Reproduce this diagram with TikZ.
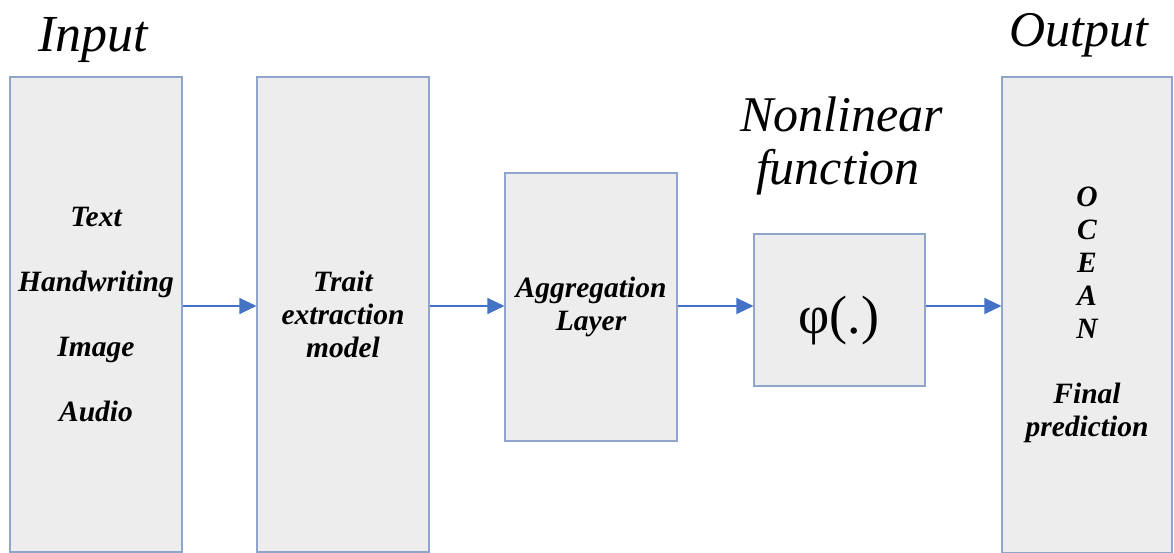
\documentclass[tikz,border=0pt]{standalone}
\usepackage{fontspec}
\setmainfont{Liberation Serif}
\usetikzlibrary{arrows.meta}
\definecolor{boxfill}{HTML}{EDEDED}
\definecolor{boxline}{HTML}{8FA5CC}
\definecolor{arrowblue}{HTML}{4472C4}
\tikzset{
  stagebox/.style={draw=boxline, fill=boxfill, line width=1.1pt, inner sep=0pt, align=center,
    font=\fontsize{29.5}{33}\selectfont\bfseries\itshape},
  flow/.style={draw=arrowblue, line width=1.1pt, -{Triangle[length=17pt,width=16pt]}},
  title/.style={font=\fontsize{50}{53}\selectfont\itshape, anchor=base, inner sep=0pt, align=center}
}
\begin{document}
\begin{tikzpicture}[x=1pt,y=-1pt]
\useasboundingbox (0,0) rectangle (1174,553);
\node[stagebox, minimum width=172pt, minimum height=475pt] (inp) at (96,314.5)
  {Text\\[32pt]Handwriting\\[32pt]Image\\[32pt]Audio};
\node[stagebox, minimum width=172pt, minimum height=475pt] (trait) at (343,314.5)
  {Trait\\extraction\\model};
\node[stagebox, minimum width=172pt, minimum height=268pt] (agg) at (591,307)
  {Aggregation\\Layer};
\node[stagebox, minimum width=171pt, minimum height=152pt] (phi) at (839.5,310) {};
\node[font=\fontsize{54}{58}\selectfont, inner sep=0pt] (phitxt) at (839,321) {φ(.)};
\node[stagebox, minimum width=170pt, minimum height=476pt] (out) at (1087,315)
  {O\\C\\E\\A\\N\\[32pt]Final\\prediction};
\node[title, font=\fontsize{52}{55}\selectfont\itshape] (tin) at (93,52) {Input};
\node[title] (tout) at (1079,47) {Output};
\node[title] (tnl) at (842,132) {Nonlinear};
\node[title] (tfn) at (838,185) {function};
\coordinate (ay) at (0,306);
\draw[flow] (inp.east |- ay) -- (trait.west |- ay);
\draw[flow] (trait.east |- ay) -- (agg.west |- ay);
\draw[flow] (agg.east |- ay) -- (phi.west |- ay);
\draw[flow] (phi.east |- ay) -- (out.west |- ay);
\end{tikzpicture}
\end{document}
